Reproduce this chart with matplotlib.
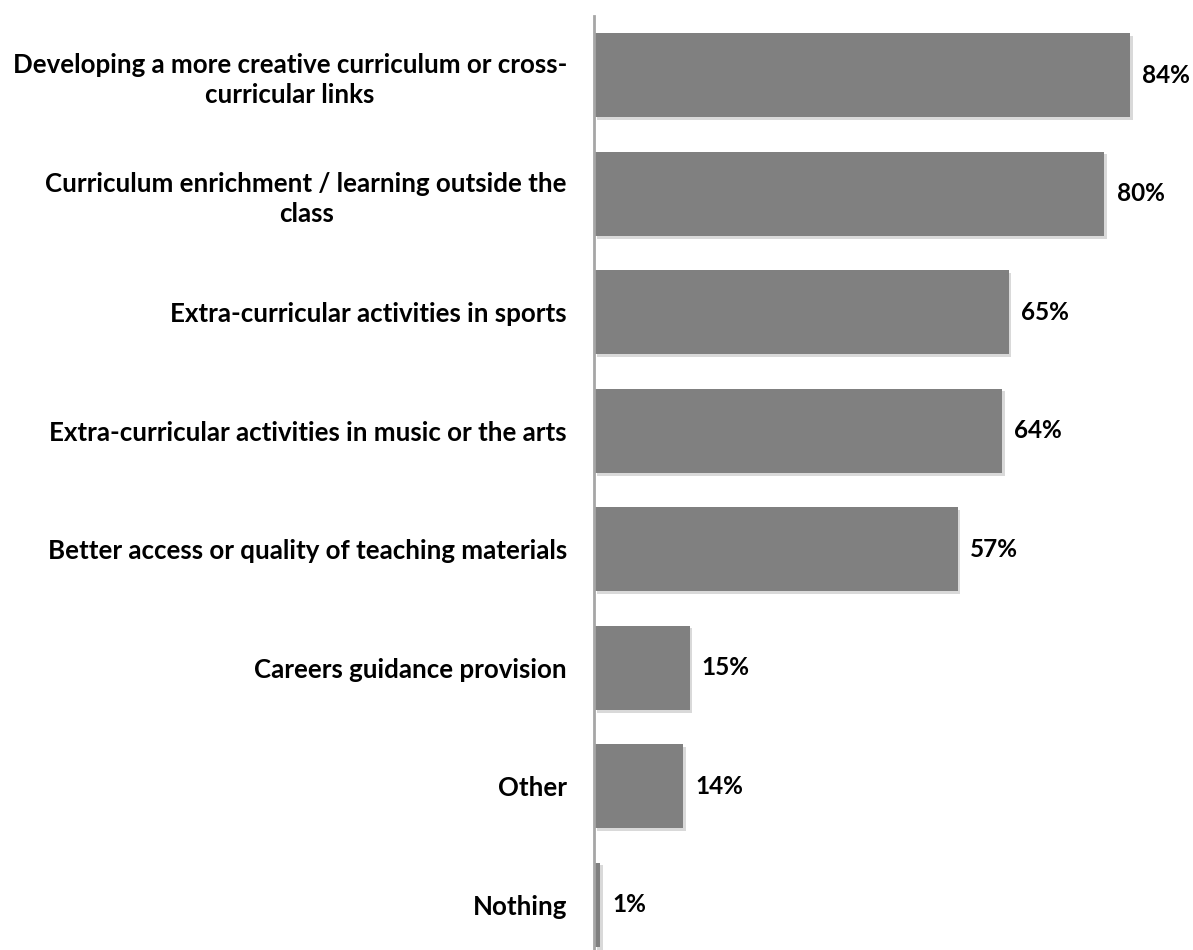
import matplotlib
matplotlib.use("Agg")
import matplotlib.pyplot as plt
import matplotlib.patheffects as pe

categories = [
    "Developing a more creative curriculum or cross-\ncurricular links",
    "Curriculum enrichment / learning outside the\nclass",
    "Extra-curricular activities in sports",
    "Extra-curricular activities in music or the arts",
    "Better access or quality of teaching materials",
    "Careers guidance provision",
    "Other",
    "Nothing",
]
values = [84, 80, 65, 64, 57, 15, 14, 1]

plt.rcParams['font.family'] = ['Lato', 'DejaVu Sans']
plt.rcParams['font.weight'] = 'bold'

W, H = 1193, 950
fig = plt.figure(figsize=(W / 100, H / 100), dpi=100)
ax_left = 594 / W
ax_top = 16
ax_h = 8 * 118.5
ax = fig.add_axes([ax_left, 1 - (ax_top + ax_h) / H, 1 - ax_left, ax_h / H])

pos = list(range(len(categories)))
bars = ax.barh(pos, values, height=0.71, color="#808080", zorder=2)
for b in bars:
    b.set_path_effects([pe.SimplePatchShadow(offset=(2, -2), shadow_rgbFace="#000000", alpha=0.15),
                        pe.Normal()])

ax.set_xlim(0, (W - 594) / 6.38)
ax.set_ylim(len(categories) - 0.5, -0.5)

for p, v in zip(pos, values):
    ax.text(v + 1.9, p, f"{v}%", va="center", ha="left", fontsize=17.5, fontweight="bold", color="black")

ax.set_yticks(pos)
ax.set_yticklabels(categories, fontsize=18.6, fontweight="bold", multialignment="center",
                   linespacing=1.3)
ax.tick_params(axis="y", length=0, pad=19.5)
ax.set_xticks([])

for s in ["top", "right", "bottom"]:
    ax.spines[s].set_visible(False)
ax.spines["left"].set_color("#a6a6a6")
ax.spines["left"].set_linewidth(2)

fig.savefig("out.png", dpi=100)
